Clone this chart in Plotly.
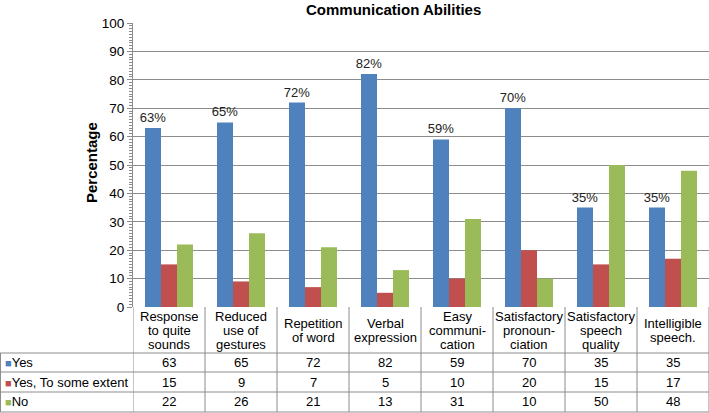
import plotly.graph_objects as go

categories = ["Response<br>to quite<br>sounds", "Reduced<br>use of<br>gestures", "Repetition<br>of word",
              "Verbal<br>expression", "Easy<br>communi-<br>cation", "Satisfactory<br>pronoun-<br>ciation",
              "Satisfactory<br>speech<br>quality", "Intelligible<br>speech."]
series_names = ["Yes", "Yes, To some extent", "No"]
yes = [63, 65, 72, 82, 59, 70, 35, 35]
some = [15, 9, 7, 5, 10, 20, 15, 17]
no = [22, 26, 21, 13, 31, 10, 50, 48]
colors = ["#4F81BD", "#C0504D", "#9BBB59"]
y_ticks = [0, 10, 20, 30, 40, 50, 60, 70, 80, 90, 100]

W, H = 709, 413
L, R, T, B = 133, 0, 23, 106
PW, PH = W - L - R, H - T - B
x_idx = list(range(len(categories)))

def py(p):  # pixel y -> paper
    return (H - B - p) / PH

def px(p):  # pixel x -> paper
    return (p - L) / PW

font = "Liberation Sans, Arial, sans-serif"
fig = go.Figure()
all_series = [yes, some, no]
for k, (name, vals) in enumerate(zip(series_names, all_series)):
    fig.add_trace(go.Bar(
        x=x_idx, y=vals, name=name, marker=dict(color=colors[k], line=dict(width=0)),
        texttemplate="%{y}%" if k == 0 else None,
        textposition="outside" if k == 0 else "none",
        textfont=dict(family=font, size=13, color="#222"),
        constraintext="none",
        cliponaxis=False,
        hoverinfo="skip",
    ))

grid = "#8c8c8c"
shapes = []
header_top, header_bot = 307, 353
row_lines = [353, 372, 392, 412]
row_centers = [362.5, 382, 402]
for i in range(len(categories) + 1):
    xb = i - 0.5
    shapes.append(dict(type="line", xref="x", yref="paper", x0=xb, x1=xb,
                       y0=0, y1=py(412), line=dict(color=grid, width=1)))
shapes.append(dict(type="line", xref="paper", yref="paper", x0=px(0.5), x1=px(0.5),
                   y0=py(353), y1=py(412), line=dict(color=grid, width=1)))
for yl in row_lines:
    shapes.append(dict(type="line", xref="paper", yref="paper", x0=px(0), x1=1,
                       y0=py(yl), y1=py(yl), line=dict(color=grid, width=1)))

annotations = []
annotations.append(dict(text="<b>Communication Abilities</b>", xref="paper", yref="paper",
                        x=px(393), y=py(10), showarrow=False, xanchor="center", yanchor="middle",
                        font=dict(family=font, size=15, color="#000")))
annotations.append(dict(text="<b>Percentage</b>", xref="paper", yref="paper",
                        x=px(91), y=py(163), showarrow=False, textangle=-90,
                        xanchor="center", yanchor="middle",
                        font=dict(family=font, size=15, color="#000")))
hc = (header_top + header_bot) / 2
for i, cat in enumerate(categories):
    parts = cat.split("<br>")
    n = len(parts)
    for j, part in enumerate(parts):
        annotations.append(dict(text=part, xref="x", yref="paper", x=i, y=py(hc),
                                yshift=-(j - (n - 1) / 2) * 14, showarrow=False,
                                xanchor="center", yanchor="middle",
                                font=dict(family=font, size=13, color="#000")))
for r, (name, vals) in enumerate(zip(series_names, all_series)):
    yc = py(row_centers[r])
    annotations.append(dict(text=f"<span style='color:{colors[r]};font-size:11px'>■</span>{name}", xref="paper",
                            yref="paper", x=px(3), y=yc, showarrow=False, xanchor="left",
                            yanchor="middle", font=dict(family=font, size=13, color="#000")))
    for i, v in enumerate(vals):
        annotations.append(dict(text=str(v), xref="x", yref="paper", x=i, y=yc, showarrow=False,
                                xanchor="center", yanchor="middle",
                                font=dict(family=font, size=13, color="#000")))

fig.update_layout(
    width=W, height=H, margin=dict(l=L, r=R, t=T, b=B, pad=0),
    paper_bgcolor="white", plot_bgcolor="white",
    barmode="group", bargap=0.333, bargroupgap=0, showlegend=False,
    font=dict(family=font, size=13, color="#000"),
    shapes=shapes, annotations=annotations,
    xaxis=dict(range=[-0.5, len(categories) - 0.5], showticklabels=False, ticks="",
               showgrid=False, zeroline=False, showline=False, fixedrange=True),
    yaxis=dict(range=[0, 100], tickvals=y_ticks, ticktext=[str(t) for t in y_ticks],
               showgrid=True, gridcolor=grid, gridwidth=1, zeroline=False,
               showline=True, linecolor=grid, linewidth=1,
               ticks="outside", ticklen=5, tickcolor=grid,
               minor=dict(dtick=1, ticks="outside", ticklen=3, tickcolor=grid, showgrid=False),
               tickfont=dict(family=font, size=13.5, color="#000"), fixedrange=True),
)
fig.write_html("out.html", config={"displayModeBar": False},
               post_script="document.body.style.margin='0';document.body.style.overflow='hidden';")
